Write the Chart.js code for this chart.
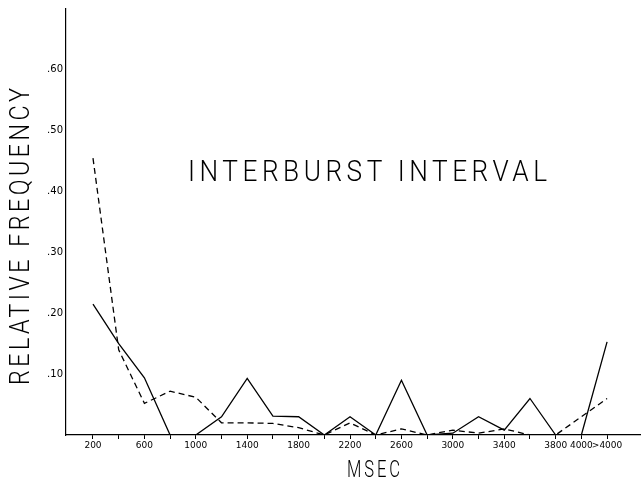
<!DOCTYPE html>
<html>
<head>
<meta charset="utf-8">
<script src="https://cdn.jsdelivr.net/npm/chart.js@4/dist/chart.umd.min.js"></script>
<style>
html,body{margin:0;padding:0;background:#fff;}
canvas{display:block;}
</style>
</head>
<body>
<canvas id="c" width="641" height="487"></canvas>
<script>
// Interval categories (msec)
const categories = ['200','400','600','800','1000','1200','1400','1600','1800','2000','2200','2400','2600','2800','3000','3200','3400','3600','3800','4000','>4000'];
// Which category labels are printed on the axis
const shownLabels = ['200','','600','','1000','','1400','','1800','','2200','','2600','','3000','','3400','','3800','4000','>4000'];
// Solid line series
const solidSeries = [0.215,0.15,0.094,0,0,0.03,0.093,0.031,0.03,0,0.03,0,0.09,0,0.003,0.03,0.008,0.06,0,0,0.153];
// Dashed line series
const dashedSeries = [0.455,0.14,0.052,0.072,0.062,0.02,0.02,0.019,0.012,0,0.02,0,0.01,0,0.008,0.003,0.01,0,0,0.03,0.06];
// Y tick values
const yTicks = [0.1,0.2,0.3,0.4,0.5,0.6];

const toPts = arr => arr.map((v,i)=>({x:i,y:v}));

// draw narrow, letter-spaced text fitted to a given width, starting at x0
function spanText(ctx, text, font, spacing, x0, y, targetW){
  ctx.save();
  ctx.font = font;
  ctx.letterSpacing = spacing + 'px';
  const w = ctx.measureText(text).width - spacing;
  const sx = targetW / w;
  ctx.translate(x0, y);
  ctx.scale(sx, 1);
  ctx.textAlign = 'left';
  ctx.fillText(text, 0, 0);
  ctx.restore();
}

const textPlugin = {
  id:'texts',
  afterDraw(chart){
    const ctx = chart.ctx;
    ctx.save();
    ctx.fillStyle = '#000';
    ctx.textBaseline = 'middle';
    spanText(ctx, 'INTERBURST INTERVAL', '300 29px Roboto', 5, 188, 174, 359);
    spanText(ctx, 'MSEC', '300 23px Roboto', 4, 347, 471, 53);
    ctx.translate(22, 385);
    ctx.rotate(-Math.PI/2);
    spanText(ctx, 'RELATIVE FREQUENCY', '300 27px Roboto', 4, 0, 0, 297);
    ctx.restore();
  }
};

new Chart(document.getElementById('c'), {
  type:'line',
  data:{
    datasets:[
      {label:'solid', data:toPts(solidSeries), borderColor:'#000', borderWidth:1.3, pointRadius:0, tension:0, fill:false},
      {label:'dashed', data:toPts(dashedSeries), borderColor:'#000', borderWidth:1.3, borderDash:[6,4], pointRadius:0, tension:0, fill:false}
    ]
  },
  options:{
    responsive:false,
    animation:false,
    events:[],
    layout:{padding:{top:5,left:0,right:0,bottom:0}},
    plugins:{legend:{display:false}, tooltip:{enabled:false}},
    scales:{
      x:{
        type:'linear',
        min:-1.05, max:21.32,
        afterFit(s){ s.height = 52; },
        afterBuildTicks(s){ s.ticks = categories.map((c,i)=>({value:i})); },
        ticks:{
          autoSkip:false, maxRotation:0, minRotation:0,
          color:'#000', font:{family:'DejaVu Sans', size:9}, padding:1,
          callback:(v)=>shownLabels[v] ?? ''
        },
        grid:{drawOnChartArea:false, color:'#000', tickLength:4, lineWidth:1},
        border:{display:true, color:'#000', width:1.2}
      },
      y:{
        min:0, max:0.7,
        afterFit(s){ s.width = 66; },
        afterBuildTicks(s){ s.ticks = [{value:0}].concat(yTicks.map(v=>({value:v}))); },
        ticks:{
          color:'#000', font:{family:'DejaVu Sans', size:10}, padding:3,
          callback:(v)=> v===0 ? '' : '.' + Math.round(v*100)
        },
        grid:{drawOnChartArea:false, drawTicks:false, tickLength:0},
        border:{display:true, color:'#000', width:1.2}
      }
    }
  },
  plugins:[textPlugin]
});
</script>
</body>
</html>
